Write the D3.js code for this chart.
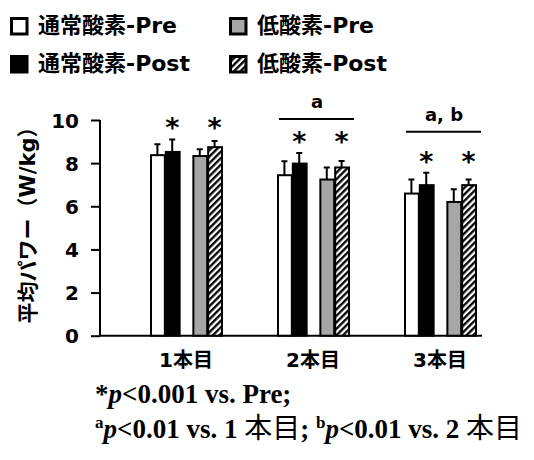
<!DOCTYPE html>
<html>
<head>
<meta charset="UTF-8">
<script src="https://d3js.org/d3.v7.min.js"></script>
<style>
  body { margin: 0; background: white; }
  svg { display: block; }
  .sans { font-family: "DejaVu Sans", "Noto Sans CJK JP", sans-serif; font-weight: bold; }
  .serif { font-family: "Liberation Serif", "Noto Sans CJK JP", serif; font-weight: bold; }
</style>
</head>
<body>
<svg width="534" height="460"></svg>
<script>
// data
const groups = ["1本目", "2本目", "3本目"];
const series = ["通常酸素-Pre", "通常酸素-Post", "低酸素-Pre", "低酸素-Post"];
const pairs = ["通常酸素", "低酸素"];
const means = [
  [8.37, 8.52, 8.33, 8.74],
  [7.44, 7.98, 7.24, 7.80],
  [6.59, 6.98, 6.20, 6.98]
];
const sds = [
  [0.50, 0.58, 0.31, 0.29],
  [0.65, 0.49, 0.56, 0.30],
  [0.65, 0.57, 0.59, 0.26]
];
const starred = ["通常酸素-Post", "低酸素-Post"];
const sigLabels = ["", "a", "a, b"];
const sigLevels = [null, 10.05, 9.45];
const yTicks = [0, 2, 4, 6, 8, 10];

const fills = {"通常酸素-Pre": "#ffffff", "通常酸素-Post": "#000000", "低酸素-Pre": "#a6a6a6", "低酸素-Post": "url(#hatch)"};

const svg = d3.select("svg");

// hatch pattern
const pat = svg.append("defs").append("pattern")
  .attr("id", "hatch")
  .attr("patternUnits", "userSpaceOnUse")
  .attr("width", 4.6).attr("height", 4.6)
  .attr("patternTransform", "rotate(45)");
pat.append("rect").attr("width", 4.6).attr("height", 4.6).attr("fill", "white");
pat.append("line").attr("x1", 1.2).attr("x2", 1.2).attr("y1", 0).attr("y2", 4.6)
  .attr("stroke", "black").attr("stroke-width", 2.3);

const y = d3.scaleLinear().domain([0, 10]).range([335.7, 120]);
const x = d3.scalePoint().domain(groups).range([186, 440]);
const xPair = d3.scaleBand().domain(pairs).range([-36, 36]).paddingInner(0.3);
const barW = xPair.bandwidth() / 2;
function barX(g, s) {
  const pair = s.startsWith("通常") ? pairs[0] : pairs[1];
  const idx = s.endsWith("Post") ? 1 : 0;
  return x(g) + xPair(pair) + idx * barW;
}

// y axis
const yAxis = svg.append("g")
  .attr("transform", "translate(100,0)")
  .call(d3.axisLeft(y).tickValues(yTicks).tickSize(9).tickPadding(12).tickFormat(d3.format("d")));
yAxis.select(".domain").attr("stroke", "black").attr("stroke-width", 2).attr("d", "M0," + y(10) + "V" + y(0));
yAxis.selectAll(".tick line").attr("stroke-width", 2);
yAxis.selectAll(".tick text").attr("class", "sans").style("font-size", "20px").attr("fill", "black").attr("dy", "0.36em");

// x axis baseline
svg.append("line")
  .attr("x1", 100).attr("x2", 482)
  .attr("y1", y(0)).attr("y2", y(0))
  .attr("stroke", "black").attr("stroke-width", 2);

svg.append("g").selectAll("text").data(groups).join("text")
  .attr("class", "sans")
  .attr("x", d => x(d)).attr("y", 367)
  .attr("text-anchor", "middle")
  .style("font-size", "20px")
  .text(d => d);

// bars
const cells = [];
groups.forEach((g, i) => series.forEach((s, j) => cells.push({g, s, v: means[i][j], sd: sds[i][j]})));

const bars = svg.append("g");
// error bars (drawn first so the bar outline sits on top)
bars.selectAll("path.err").data(cells).join("path")
  .attr("class", "err")
  .attr("d", d => {
    const cx = barX(d.g, d.s) + barW / 2;
    return "M" + cx + "," + y(d.v) + "V" + y(d.v + d.sd) + "M" + (cx - 3) + "," + y(d.v + d.sd) + "H" + (cx + 3);
  })
  .attr("stroke", "black").attr("stroke-width", 2).attr("fill", "none");

bars.selectAll("rect").data(cells).join("rect")
  .attr("x", d => barX(d.g, d.s) + 1)
  .attr("y", d => y(d.v))
  .attr("width", barW - 1)
  .attr("height", d => y(0) - y(d.v))
  .attr("fill", d => fills[d.s])
  .attr("stroke", "black").attr("stroke-width", 2);

// stars and significance bars
groups.forEach((g, i) => {
  const top = d3.max(series, (s, j) => means[i][j] + sds[i][j]);
  starred.forEach(s => {
    svg.append("text").attr("class", "sans")
      .attr("x", barX(g, s) + barW / 2)
      .attr("y", y(top) - 2)
      .attr("text-anchor", "middle")
      .style("font-size", "27px")
      .text("*");
  });
  if (sigLevels[i] != null) {
    const ly = y(sigLevels[i]);
    svg.append("line")
      .attr("x1", x(g) - 34).attr("x2", x(g) + 41)
      .attr("y1", ly).attr("y2", ly)
      .attr("stroke", "black").attr("stroke-width", 2);
    svg.append("text").attr("class", "sans")
      .attr("x", x(g) + 4).attr("y", ly - 10.5)
      .attr("text-anchor", "middle")
      .style("font-size", "18px")
      .text(sigLabels[i]);
  }
});

// legend
const legendPos = [[10, 17], [10, 55], [229, 17], [229, 55]];
const leg = svg.append("g").selectAll("g").data(series).join("g")
  .attr("transform", (d, i) => "translate(" + legendPos[i][0] + "," + legendPos[i][1] + ")");
leg.append("rect")
  .attr("x", 1.5).attr("y", 1.5).attr("width", 15.5).attr("height", 15.5)
  .attr("fill", d => fills[d]).attr("stroke", "black").attr("stroke-width", 3);
leg.append("text").attr("class", "sans")
  .attr("x", 28).attr("y", 16)
  .style("font-size", "22px")
  .text(d => d);

// y title
svg.append("text").attr("class", "sans")
  .attr("transform", "translate(35,220) rotate(-90)")
  .attr("text-anchor", "middle")
  .style("font-size", "21px")
  .text("平均パワー（W/kg）");

// footnotes
const f1 = svg.append("text").attr("class", "serif").attr("x", 95).attr("y", 403).style("font-size", "27px");
f1.append("tspan").text("*");
f1.append("tspan").style("font-style", "italic").text("p");
f1.append("tspan").text("<0.001 vs. Pre;");

const f2 = svg.append("text").attr("class", "serif").attr("x", 95).attr("y", 438).style("font-size", "27px");
f2.append("tspan").style("font-size", "17px").attr("dy", -10).text("a");
f2.append("tspan").style("font-style", "italic").attr("dy", 10).text("p");
f2.append("tspan").text("<0.01 vs. 1 ");
f2.append("tspan").style("font-weight", "normal").style("font-size", "28px").text("本目");
f2.append("tspan").text("; ");
f2.append("tspan").style("font-size", "17px").attr("dy", -10).text("b");
f2.append("tspan").style("font-style", "italic").attr("dy", 10).text("p");
f2.append("tspan").text("<0.01 vs. 2 ");
f2.append("tspan").style("font-weight", "normal").style("font-size", "28px").text("本目");
</script>
</body>
</html>
